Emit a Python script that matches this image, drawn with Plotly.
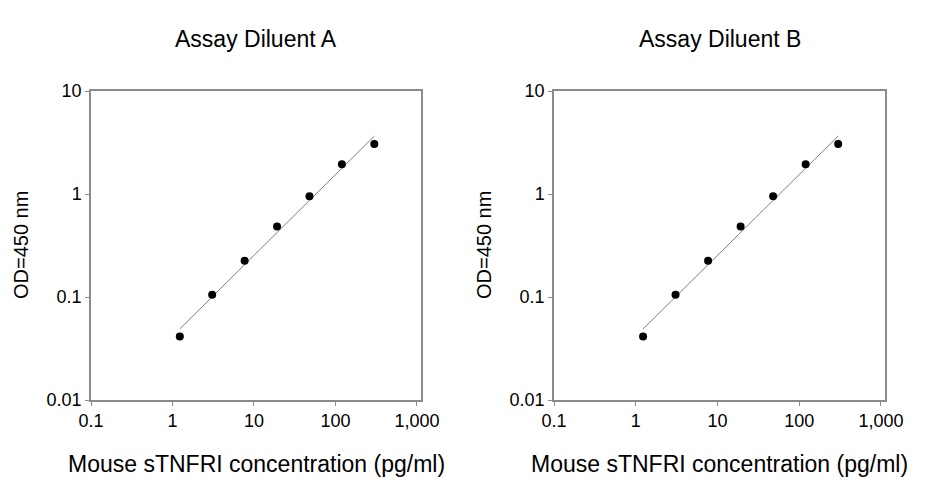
import plotly.graph_objects as go

# standard curve readings (pg/ml vs OD at 450 nm)
conc = [1.23, 3.07, 7.68, 19.2, 48.0, 120.0, 300.0]
od_a = [0.0414, 0.105, 0.225, 0.483, 0.953, 1.94, 3.05]
od_b = [0.0414, 0.105, 0.225, 0.483, 0.953, 1.94, 3.05]

# fitted line end points
fit_conc = [1.23, 300.0]
fit_od_a = [0.049, 3.65]
fit_od_b = [0.049, 3.65]

panel_titles = ["Assay Diluent A", "Assay Diluent B"]
x_title = "Mouse sTNFRI concentration (pg/ml)"
y_title = "OD=450 nm"

x_tickvals = [0.1, 1, 10, 100, 1000]
x_ticktext = ["0.1", "1", "10", "100", "1,000"]
y_tickvals = [0.01, 0.1, 1, 10]
y_ticktext = ["0.01", "0.1", "1", "10"]

# the page puts an 8px body margin around the figure
OFF = 8
W, H = 926 - OFF, 480 - OFF
FONT = "Liberation Sans, Arial, sans-serif"


def px(x):
    return (x - OFF) / W


def py(y):
    return 1 - (y - OFF) / H


# pixel boxes of the two plot areas in the page (left, right, top, bottom)
boxes = [(91, 421, 91, 400), (554, 885, 91, 400)]

fig = go.Figure()

for i, (od, fit_od) in enumerate([(od_a, fit_od_a), (od_b, fit_od_b)]):
    xa = "x" if i == 0 else "x2"
    ya = "y" if i == 0 else "y2"
    fig.add_trace(go.Scatter(x=fit_conc, y=fit_od, mode="lines",
                             line=dict(color="#808080", width=1),
                             xaxis=xa, yaxis=ya, showlegend=False))
    fig.add_trace(go.Scatter(x=conc, y=od, mode="markers",
                             marker=dict(color="black", size=8),
                             xaxis=xa, yaxis=ya, showlegend=False))

axis_common = dict(
    type="log",
    showgrid=False,
    zeroline=False,
    showline=True,
    mirror=True,
    linecolor="#8a8a8a",
    linewidth=1.5,
    ticks="outside",
    ticklen=4,
    tickcolor="#8a8a8a",
    tickfont=dict(family=FONT, size=18, color="black"),
)

layout_axes = {}
for i, (l, r, t, b) in enumerate(boxes):
    sfx = "" if i == 0 else "2"
    layout_axes["xaxis" + sfx] = dict(
        axis_common,
        domain=[px(l), px(r)],
        range=[-1, 3.05],
        tickvals=x_tickvals,
        ticktext=x_ticktext,
        anchor="y" + sfx,
    )
    layout_axes["yaxis" + sfx] = dict(
        axis_common,
        domain=[py(b), py(t)],
        range=[-2, 1],
        tickvals=y_tickvals,
        ticktext=y_ticktext,
        anchor="x" + sfx,
    )

annotations = []
for i, (l, r, t, b) in enumerate(boxes):
    cx = (l + r) / 2
    annotations.append(dict(text=panel_titles[i], x=px(cx), y=py(39),
                            xref="paper", yref="paper", showarrow=False,
                            xanchor="center", yanchor="middle",
                            font=dict(family=FONT, size=23, color="black")))
    annotations.append(dict(text=x_title, x=px(cx), y=py(464),
                            xref="paper", yref="paper", showarrow=False,
                            xanchor="center", yanchor="middle",
                            font=dict(family=FONT, size=23, color="black")))
    annotations.append(dict(text=y_title, x=px(l - 70), y=py(245),
                            xref="paper", yref="paper", showarrow=False,
                            textangle=-90, xanchor="center", yanchor="middle",
                            borderpad=0,
                            font=dict(family=FONT, size=20, color="black")))

fig.update_layout(
    width=W,
    height=H,
    margin=dict(l=0, r=0, t=0, b=0, autoexpand=False),
    plot_bgcolor="white",
    paper_bgcolor="white",
    annotations=annotations,
    **layout_axes,
)

fig.write_html("out.html")
